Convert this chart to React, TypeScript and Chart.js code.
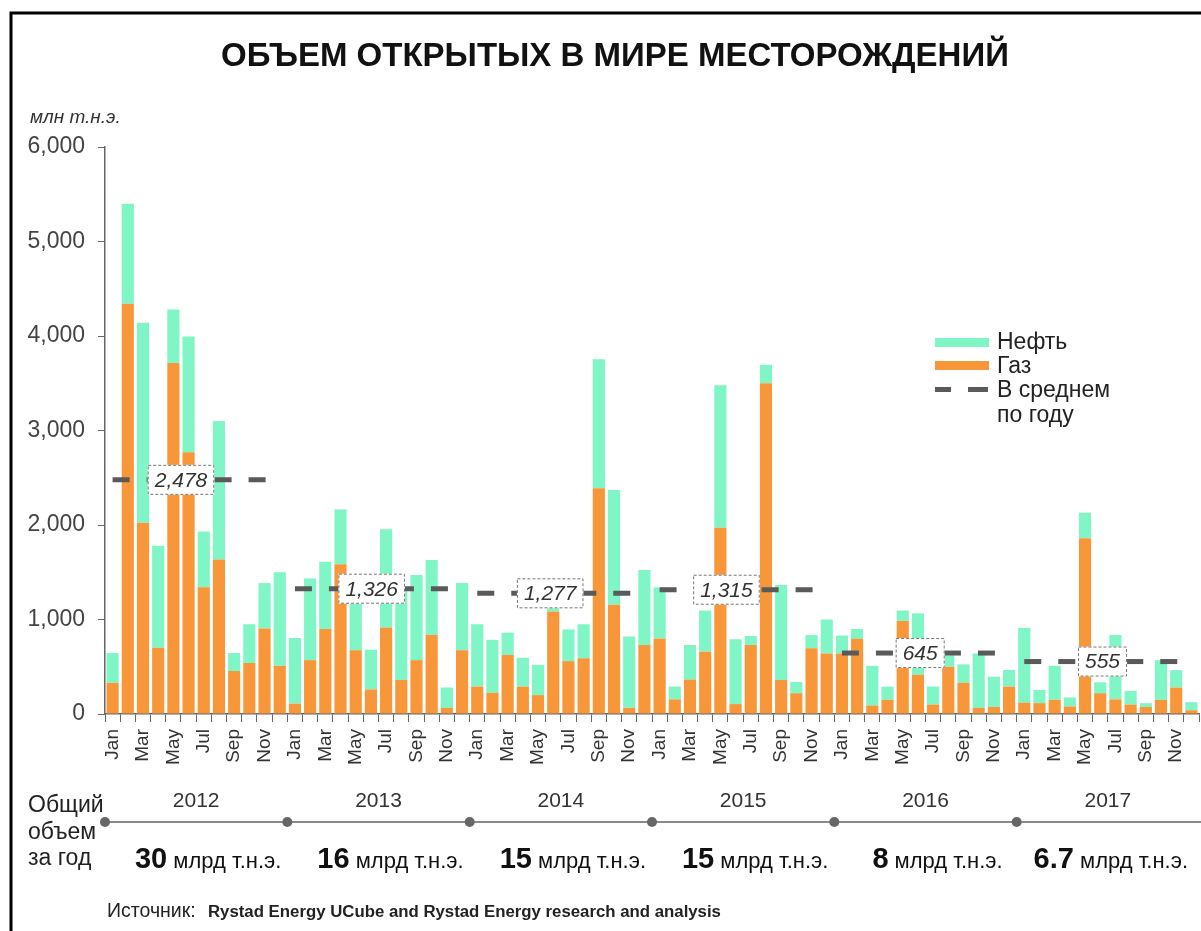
import React, { useEffect, useRef } from "react";
import { Chart, registerables } from "chart.js";

Chart.register(...registerables);

const FONT = "'Liberation Sans', Arial, sans-serif";

const years = ["2012", "2013", "2014", "2015", "2016", "2017"];
const monthNames = ["Jan", "Feb", "Mar", "Apr", "May", "Jun", "Jul", "Aug", "Sep", "Oct", "Nov", "Dec"];

// Gas (bottom, orange), млн т.н.э.
const gas2012 = [330, 4340, 2025, 700, 3715, 2770, 1340, 1635, 455, 540, 905, 510];
const gas2013 = [110, 570, 900, 1585, 675, 260, 915, 360, 570, 835, 65, 675];
const gas2014 = [290, 225, 625, 290, 200, 1085, 560, 590, 2390, 1155, 65, 730];
const gas2015 = [800, 155, 365, 660, 1970, 105, 730, 3500, 360, 220, 695, 640];
const gas2016 = [640, 795, 90, 150, 985, 415, 100, 500, 330, 65, 75, 290];
const gas2017 = [120, 115, 150, 80, 1860, 220, 155, 100, 75, 150, 280, 40];

// Oil (top, green), млн т.н.э.
const oil2012 = [315, 1060, 2115, 1080, 565, 1225, 590, 1465, 190, 410, 480, 990];
const oil2013 = [695, 865, 710, 580, 495, 420, 1040, 970, 900, 795, 215, 710];
const oil2014 = [660, 560, 235, 305, 320, 195, 335, 360, 1365, 1215, 755, 795];
const oil2015 = [540, 135, 365, 435, 1510, 685, 95, 195, 1005, 120, 140, 360];
const oil2016 = [190, 105, 420, 140, 110, 650, 190, 120, 195, 575, 320, 175];
const oil2017 = [790, 140, 360, 95, 270, 115, 680, 145, 40, 420, 185, 85];

const yearAverages = [2478, 1326, 1277, 1315, 645, 555];
const yearTotalNumbers = ["30", "16", "15", "15", "8", "6.7"];
const yearTotalUnit = "млрд т.н.э.";

const yTicks = [0, 1000, 2000, 3000, 4000, 5000, 6000];

// month position (within each year) where the average's label box sits
const avgLabelAnchor = [4.5, 5.05, 4.8, 4.4, 5.15, 5.15];

const gasValues = [...gas2012, ...gas2013, ...gas2014, ...gas2015, ...gas2016, ...gas2017];
const oilValues = [...oil2012, ...oil2013, ...oil2014, ...oil2015, ...oil2016, ...oil2017];
const monthLabels = years.flatMap(() => monthNames);

const GREEN = "#80f5c6";
const ORANGE = "#f8973a";
const DASH_GREY = "#5a5a5a";

const overlayPlugin = {
  id: "overlay",
  afterDatasetsDraw(chart: any) {
    const { ctx, scales } = chart;
    const xs = scales.x;
    const ys = scales.y;
    ctx.save();
    yearAverages.forEach((avg, yi) => {
      const x0 = xs.getPixelForValue(yi * 12);
      const x1 = xs.getPixelForValue(yi * 12 + 11);
      const y = ys.getPixelForValue(avg);
      ctx.beginPath();
      ctx.setLineDash([17, 17]);
      ctx.lineWidth = 5;
      ctx.lineCap = "butt";
      ctx.strokeStyle = DASH_GREY;
      ctx.moveTo(x0, y);
      ctx.lineTo(x1, y);
      ctx.stroke();
    });
    yearAverages.forEach((avg, yi) => {
      const cx = xs.getPixelForValue(yi * 12 + avgLabelAnchor[yi]);
      const y = ys.getPixelForValue(avg);
      const txt = avg.toLocaleString("en-US");
      ctx.font = `italic 21px ${FONT}`;
      const w = ctx.measureText(txt).width + 14;
      const h = 30;
      ctx.setLineDash([]);
      ctx.fillStyle = "#ffffff";
      ctx.fillRect(cx - w / 2, y - h / 2, w, h);
      ctx.setLineDash([3, 2]);
      ctx.lineWidth = 1;
      ctx.strokeStyle = "#777777";
      ctx.strokeRect(cx - w / 2 + 0.5, y - h / 2 + 0.5, w - 1, h - 1);
      ctx.setLineDash([]);
      ctx.fillStyle = "#333333";
      ctx.textAlign = "center";
      ctx.textBaseline = "middle";
      ctx.fillText(txt, cx, y + 1);
    });
    ctx.restore();
  },
  afterDraw(chart: any) {
    const { ctx, scales } = chart;
    const xs = scales.x;
    ctx.save();

    // frame
    ctx.setLineDash([]);
    ctx.strokeStyle = "#000000";
    ctx.lineWidth = 3;
    ctx.beginPath();
    ctx.moveTo(11, 931);
    ctx.lineTo(11, 13);
    ctx.lineTo(1201, 13);
    ctx.stroke();

    // title
    ctx.fillStyle = "#111111";
    ctx.font = `bold 33px ${FONT}`;
    ctx.textAlign = "center";
    ctx.textBaseline = "middle";
    ctx.fillText("ОБЪЕМ ОТКРЫТЫХ В МИРЕ МЕСТОРОЖДЕНИЙ", 615, 57);

    // unit
    ctx.font = `italic 19px ${FONT}`;
    ctx.fillStyle = "#333333";
    ctx.textAlign = "left";
    ctx.fillText("млн т.н.э.", 30, 118);

    // legend
    ctx.fillStyle = GREEN;
    ctx.fillRect(935, 338, 54, 9);
    ctx.fillStyle = ORANGE;
    ctx.fillRect(935, 361, 54, 9);
    ctx.fillStyle = DASH_GREY;
    ctx.fillRect(935, 387, 16, 5);
    ctx.fillRect(968, 387, 20, 5);
    ctx.fillStyle = "#222222";
    ctx.font = `23px ${FONT}`;
    ctx.textAlign = "left";
    ctx.fillText("Нефть", 997, 343);
    ctx.fillText("Газ", 997, 367);
    ctx.fillText("В среднем", 997, 391);
    ctx.fillText("по году", 997, 416);

    // bottom: years, timeline, totals
    ctx.font = `23px ${FONT}`;
    ctx.fillStyle = "#222222";
    ctx.fillText("Общий", 28, 806);
    ctx.fillText("объем", 28, 833);
    ctx.fillText("за год", 28, 859);

    ctx.strokeStyle = "#8a8a8a";
    ctx.lineWidth = 2;
    ctx.beginPath();
    ctx.moveTo(xs.getPixelForValue(0) - 7, 822);
    ctx.lineTo(1201, 822);
    ctx.stroke();

    const step = xs.getPixelForValue(1) - xs.getPixelForValue(0);
    years.forEach((yr, yi) => {
      const mid = xs.getPixelForValue(yi * 12) + 5.5 * step;
      const left = xs.getPixelForValue(yi * 12) - 0.5 * step;
      ctx.fillStyle = "#666666";
      ctx.beginPath();
      ctx.arc(left, 822, 5, 0, Math.PI * 2);
      ctx.fill();

      ctx.fillStyle = "#333333";
      ctx.font = `21px ${FONT}`;
      ctx.textAlign = "center";
      ctx.textBaseline = "middle";
      ctx.fillText(yr, mid, 801);

      ctx.font = `bold 29px ${FONT}`;
      const numW = ctx.measureText(yearTotalNumbers[yi]).width;
      ctx.font = `22px ${FONT}`;
      const unitW = ctx.measureText(" " + yearTotalUnit).width;
      const start = Math.min(mid + 12 - (numW + unitW) / 2, 1188 - numW - unitW);
      ctx.textAlign = "left";
      ctx.textBaseline = "alphabetic";
      ctx.fillStyle = "#111111";
      ctx.font = `bold 29px ${FONT}`;
      ctx.fillText(yearTotalNumbers[yi], start, 868);
      ctx.font = `22px ${FONT}`;
      ctx.fillText(" " + yearTotalUnit, start + numW, 868);
    });

    // source
    ctx.textBaseline = "middle";
    ctx.textAlign = "left";
    ctx.fillStyle = "#222222";
    ctx.font = `19.5px ${FONT}`;
    ctx.fillText("Источник:", 107, 912);
    ctx.font = `bold 16.8px ${FONT}`;
    ctx.fillText("Rystad Energy UCube and Rystad Energy research and analysis", 208, 912);

    ctx.restore();
  },
};

export default function App() {
  const canvasRef = useRef<HTMLCanvasElement | null>(null);

  useEffect(() => {
    document.body.style.margin = "0";
    document.body.style.overflow = "hidden";
    const canvas = canvasRef.current;
    if (!canvas) return;
    const chart = new Chart(canvas, {
      type: "bar",
      data: {
        labels: monthLabels,
        datasets: [
          {
            label: "Газ",
            data: gasValues,
            backgroundColor: ORANGE,
            borderWidth: 0,
            barPercentage: 0.8,
            categoryPercentage: 1.0,
          },
          {
            label: "Нефть",
            data: oilValues,
            backgroundColor: GREEN,
            borderWidth: 0,
            barPercentage: 0.8,
            categoryPercentage: 1.0,
          },
        ],
      },
      options: {
        responsive: false,
        animation: false,
        devicePixelRatio: 1,
        layout: { padding: { top: 147, left: 0, right: 2, bottom: 137 } },
        plugins: {
          legend: { display: false },
          tooltip: { enabled: false },
          title: { display: false },
        },
        scales: {
          x: {
            stacked: true,
            offset: true,
            grid: {
              display: true,
              drawOnChartArea: false,
              drawTicks: true,
              tickLength: 8,
              color: "#666666",
              offset: true,
            },
            border: { display: true, color: "#666666", width: 1.5 },
            ticks: {
              autoSkip: false,
              maxRotation: 90,
              minRotation: 90,
              padding: 7,
              color: "#333333",
              font: { size: 19, family: FONT },
              callback: (_v: any, i: number) => (i % 2 === 0 ? monthLabels[i] : ""),
            },
            afterFit: (s: any) => {
              s.height = 80;
              s.paddingLeft = 0;
              s.paddingRight = 0;
            },
          },
          y: {
            stacked: true,
            min: 0,
            max: 6000,
            afterBuildTicks: (s: any) => {
              s.ticks = yTicks.map((v) => ({ value: v }));
            },
            ticks: {
              padding: 13,
              color: "#444444",
              font: { size: 23, family: FONT },
              callback: (v: any) => Number(v).toLocaleString("en-US"),
            },
            grid: {
              drawOnChartArea: false,
              drawTicks: true,
              tickLength: 7,
              color: "#666666",
            },
            border: { display: true, color: "#666666", width: 1.5 },
            afterFit: (s: any) => {
              s.width = 105;
              s.paddingTop = 0;
              s.paddingBottom = 0;
            },
          },
        },
      },
      plugins: [overlayPlugin],
    });
    return () => chart.destroy();
  }, []);

  return (
    <div style={{ position: "absolute", left: 0, top: 0, width: 1201, height: 931, background: "#ffffff" }}>
      <canvas ref={canvasRef} width={1201} height={931} style={{ display: "block" }} />
    </div>
  );
}
